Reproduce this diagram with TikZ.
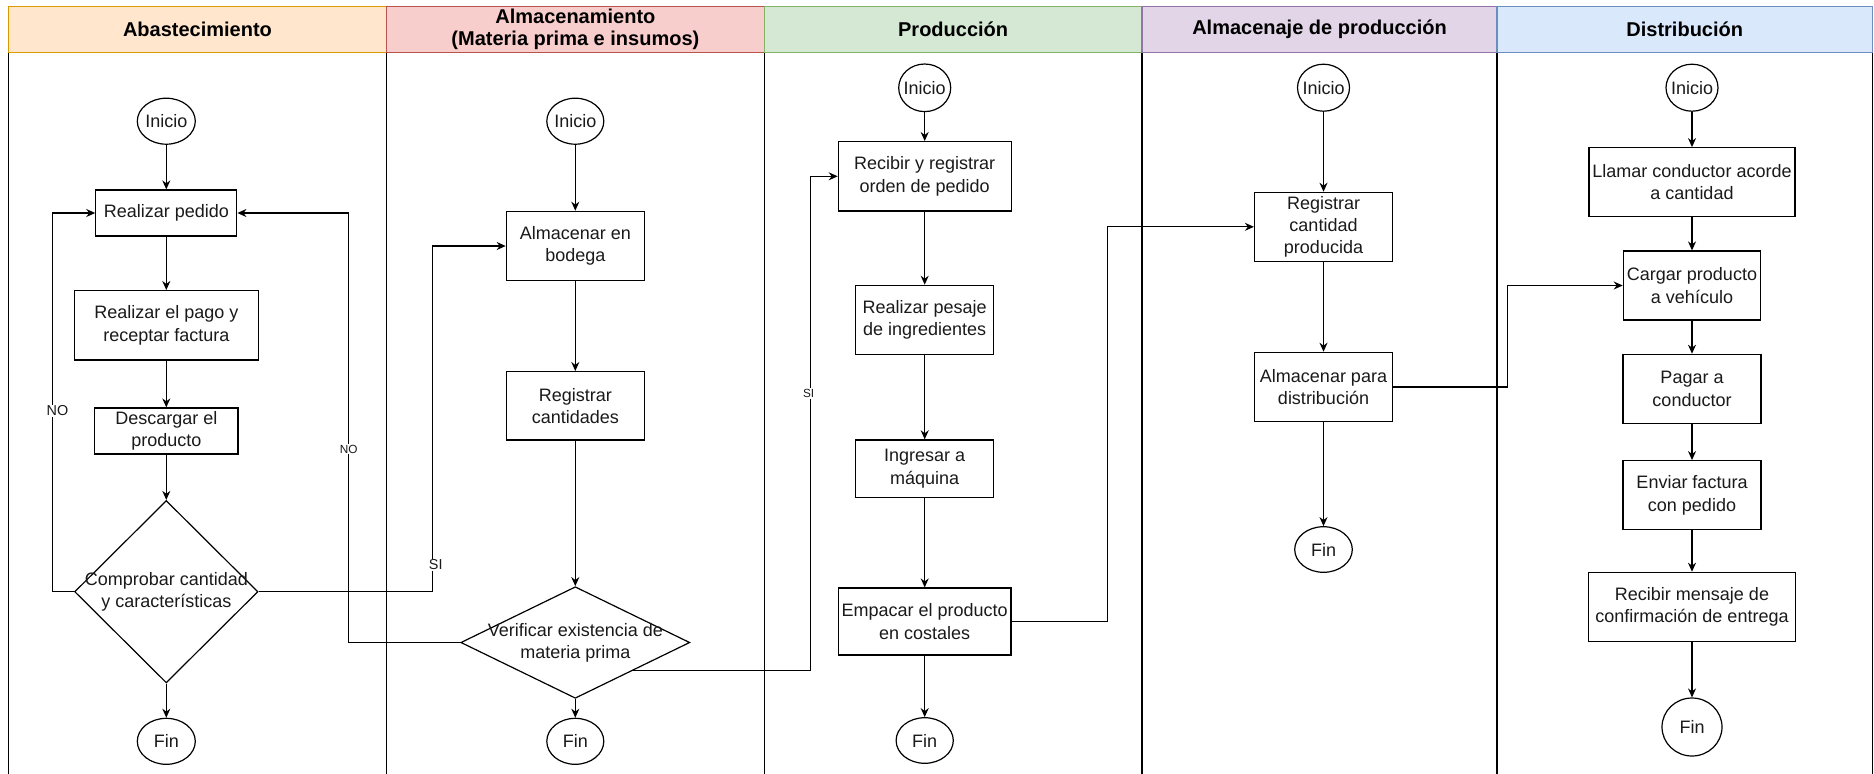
\documentclass[tikz,border=0pt]{standalone}
\usepackage{fontspec}
\setmainfont{Liberation Sans}
\usetikzlibrary{shapes.geometric,arrows.meta,calc}

\definecolor{inkc}{HTML}{1A1A1A}
\definecolor{linec}{HTML}{000000}
\definecolor{orgF}{HTML}{FFE6CC}\definecolor{orgL}{HTML}{D79B00}
\definecolor{redF}{HTML}{F8CECC}\definecolor{redL}{HTML}{B85450}
\definecolor{grnF}{HTML}{D5E8D4}\definecolor{grnL}{HTML}{82B366}
\definecolor{purF}{HTML}{E1D5E7}\definecolor{purL}{HTML}{9673A6}
\definecolor{bluF}{HTML}{DAE8FC}\definecolor{bluL}{HTML}{6C8EBF}

\begin{document}
\begin{tikzpicture}[x=0.5pt,y=-0.5pt,line width=0.6pt,
  txt/.style={font=\fontsize{9}{11.15}\selectfont, text=inkc},
  proc/.style 2 args={draw=linec, rectangle, inner sep=0pt, align=center, txt,
    minimum width=#1, minimum height=#2},
  term/.style 2 args={draw=linec, ellipse, inner sep=-4pt, txt,
    minimum width=#1, minimum height=#2},
  decision/.style 2 args={draw=linec, diamond, inner sep=0pt,
    minimum width=#1, minimum height=#2},
  hdr/.style 2 args={rectangle, inner sep=0pt, align=center,
    font=\bfseries\fontsize{10}{11.15}\selectfont, fill=#1, draw=#2,
    minimum height=22.8pt},
  flow/.style={draw=linec, -{Stealth[length=4.5pt,width=4pt]}},
  lbl/.style={fill=white, inner sep=0.6pt, text=inkc},
  lblbig/.style={lbl, font=\fontsize{7.2}{8}\selectfont},
  lblsmall/.style={lbl, font=\fontsize{5.9}{7}\selectfont},
]
\useasboundingbox (0,0) rectangle (1874,773);
\fill[white] (0,0) rectangle (1874,773);

% lane bodies
\foreach \lx in {8.5,386.5,764.3,1142,1497,1872.5}
  \draw[linec] (\lx,52.3) -- (\lx,775);

% lane headers
\node[hdr={orgF}{orgL}, minimum width=189pt]    (h1) at (197.5,29.5)  {Abastecimiento};
\node[hdr={redF}{redL}, minimum width=188.9pt]  (h2) at (575.4,29.5)  {Almacenamiento\\(Materia prima e insumos)};
\node[hdr={grnF}{grnL}, minimum width=188.85pt] (h3) at (953.15,29.5) {Producción};
\node[hdr={purF}{purL}, minimum width=177.5pt]  (h4) at (1319.5,29.5) {Almacenaje de producción};
\node[hdr={bluF}{bluL}, minimum width=187.75pt] (h5) at (1684.75,29.5) {Distribución};

% Abastecimiento
\node[term={29pt}{23pt}]        (i1) at (166.3,121.2) {Inicio};
\node[proc={70.5pt}{23pt}]      (a1) at (166.3,213)   {Realizar pedido};
\node[proc={92pt}{34.7pt}]      (a2) at (166.3,325.3) {Realizar el pago y\\receptar factura};
\node[proc={71.7pt}{23pt}]      (a3) at (166.3,431)   {Descargar el\\producto};
\node[decision={91.7pt}{91.2pt}] (d1) at (166.3,591.7) {};
\node[txt, align=center]        (d1t) at (d1) {Comprobar cantidad\\y características};
\node[term={29pt}{23pt}]        (f1) at (166.3,741.3) {Fin};

% Almacenamiento
\node[term={28.5pt}{23pt}]      (i2) at (575.3,121.2) {Inicio};
\node[proc={69pt}{34.7pt}]      (b1) at (575.3,246)   {Almacenar en\\bodega};
\node[proc={69pt}{34.2pt}]      (b2) at (575.3,405.8) {Registrar\\cantidades};
\node[decision={114.5pt}{55.8pt}] (d2) at (575.3,642.5) {};
\node[txt, align=center]        (d2t) at (d2) {Verificar existencia de\\materia prima};
\node[term={28.5pt}{23pt}]      (f2) at (575.3,741.3) {Fin};

% Producción
\node[term={26pt}{23.8pt}]      (i3) at (924.7,87.8)  {Inicio};
\node[proc={86.4pt}{34.7pt}]    (c1) at (924.7,176.3) {Recibir y registrar\\orden de pedido};
\node[proc={69pt}{34.5pt}]      (c2) at (924.7,319.8) {Realizar pesaje\\de ingredientes};
\node[proc={69pt}{28.9pt}]      (c3) at (924.7,468.8) {Ingresar a\\máquina};
\node[proc={86.3pt}{33.5pt}]    (c4) at (924.7,621.5) {Empacar el producto\\en costales};
\node[term={28.6pt}{22.8pt}]    (f3) at (924.7,740.5) {Fin};

% Almacenaje de producción
\node[term={26pt}{23.5pt}]      (i4) at (1323.5,87.7) {Inicio};
\node[proc={69pt}{34.5pt}]      (e1) at (1323.5,226.8) {Registrar\\cantidad\\producida};
\node[proc={69pt}{34.7pt}]      (e2) at (1323.5,387)   {Almacenar para\\distribución};
\node[term={28.8pt}{22.8pt}]    (f4) at (1323.5,549.5) {Fin};

% Distribución
\node[term={26pt}{23.5pt}]      (i5) at (1692,87.7)  {Inicio};
\node[proc={103pt}{34.5pt}]     (g1) at (1692,182.2) {Llamar conductor acorde\\a cantidad};
\node[proc={68.7pt}{34.5pt}]    (g2) at (1692,285.5) {Cargar producto\\a vehículo};
\node[proc={69pt}{34.5pt}]      (g3) at (1692,388.8) {Pagar a\\conductor};
\node[proc={69pt}{34.5pt}]      (g4) at (1692,495.2) {Enviar factura\\con pedido};
\node[proc={103.3pt}{34.4pt}]   (g5) at (1692,606.7) {Recibir mensaje de\\confirmación de entrega};
\node[term={30pt}{29pt}]        (f5) at (1692,727)   {Fin};

% straight flows inside each lane
\draw[flow] (i1) -- (a1);
\draw[flow] (a1) -- (a2);
\draw[flow] (a2) -- (a3);
\draw[flow] (a3) -- (d1);
\draw[flow] (d1) -- (f1);

\draw[flow] (i2) -- (b1);
\draw[flow] (b1) -- (b2);
\draw[flow] (b2) -- (d2);
\draw[flow] (d2) -- (f2);

\draw[flow] (i3) -- (c1);
\draw[flow] (c1) -- (c2);
\draw[flow] (c2) -- (c3);
\draw[flow] (c3) -- (c4);
\draw[flow] (c4) -- (f3);

\draw[flow] (i4) -- (e1);
\draw[flow] (e1) -- (e2);
\draw[flow] (e2) -- (f4);

\draw[flow] (i5) -- (g1);
\draw[flow] (g1) -- (g2);
\draw[flow] (g2) -- (g3);
\draw[flow] (g3) -- (g4);
\draw[flow] (g4) -- (g5);
\draw[flow] (g5) -- (f5);

% bend points of the routed connectors
\coordinate (n1a) at (52.3,591.7);
\coordinate (n1b) at (52.3,213);
\coordinate (s1a) at (432.3,591.7);
\coordinate (s1b) at (432.3,246);
\coordinate (n2a) at (348.3,642.5);
\coordinate (n2b) at (348.3,213);
\coordinate (d2se) at ($(d2.east)!0.5!(d2.south)$);
\coordinate (s2b) at (810.3,176.3);
\coordinate (p1b) at (1107.6,226.8);
\coordinate (p2b) at (1507.3,285.5);

% decision branches
\draw[flow] (d1.west) -- (n1a) -- (n1b) -- (a1.west);
\draw[flow] (d1.east) -- (s1a) -- (s1b) -- (b1.west);
\draw[flow] (d2.west) -- (n2a) -- (n2b) -- (a1.east);
\draw[flow] (d2se) -| (s2b) -- (c1.west);

% hand-offs between lanes
\draw[flow] (c4.east) -| (p1b) -- (e1.west);
\draw[flow] (e2.east) -| (p2b) -- (g2.west);

% branch labels
\node[lblbig]   (no1) at (57.5,411)   {NO};
\node[lblbig]   (si1) at (435.7,565)  {SI};
\node[lblsmall] (no2) at (348.6,449)  {NO};
\node[lblsmall] (si2) at (808.6,393.3) {SI};
\end{tikzpicture}
\end{document}
